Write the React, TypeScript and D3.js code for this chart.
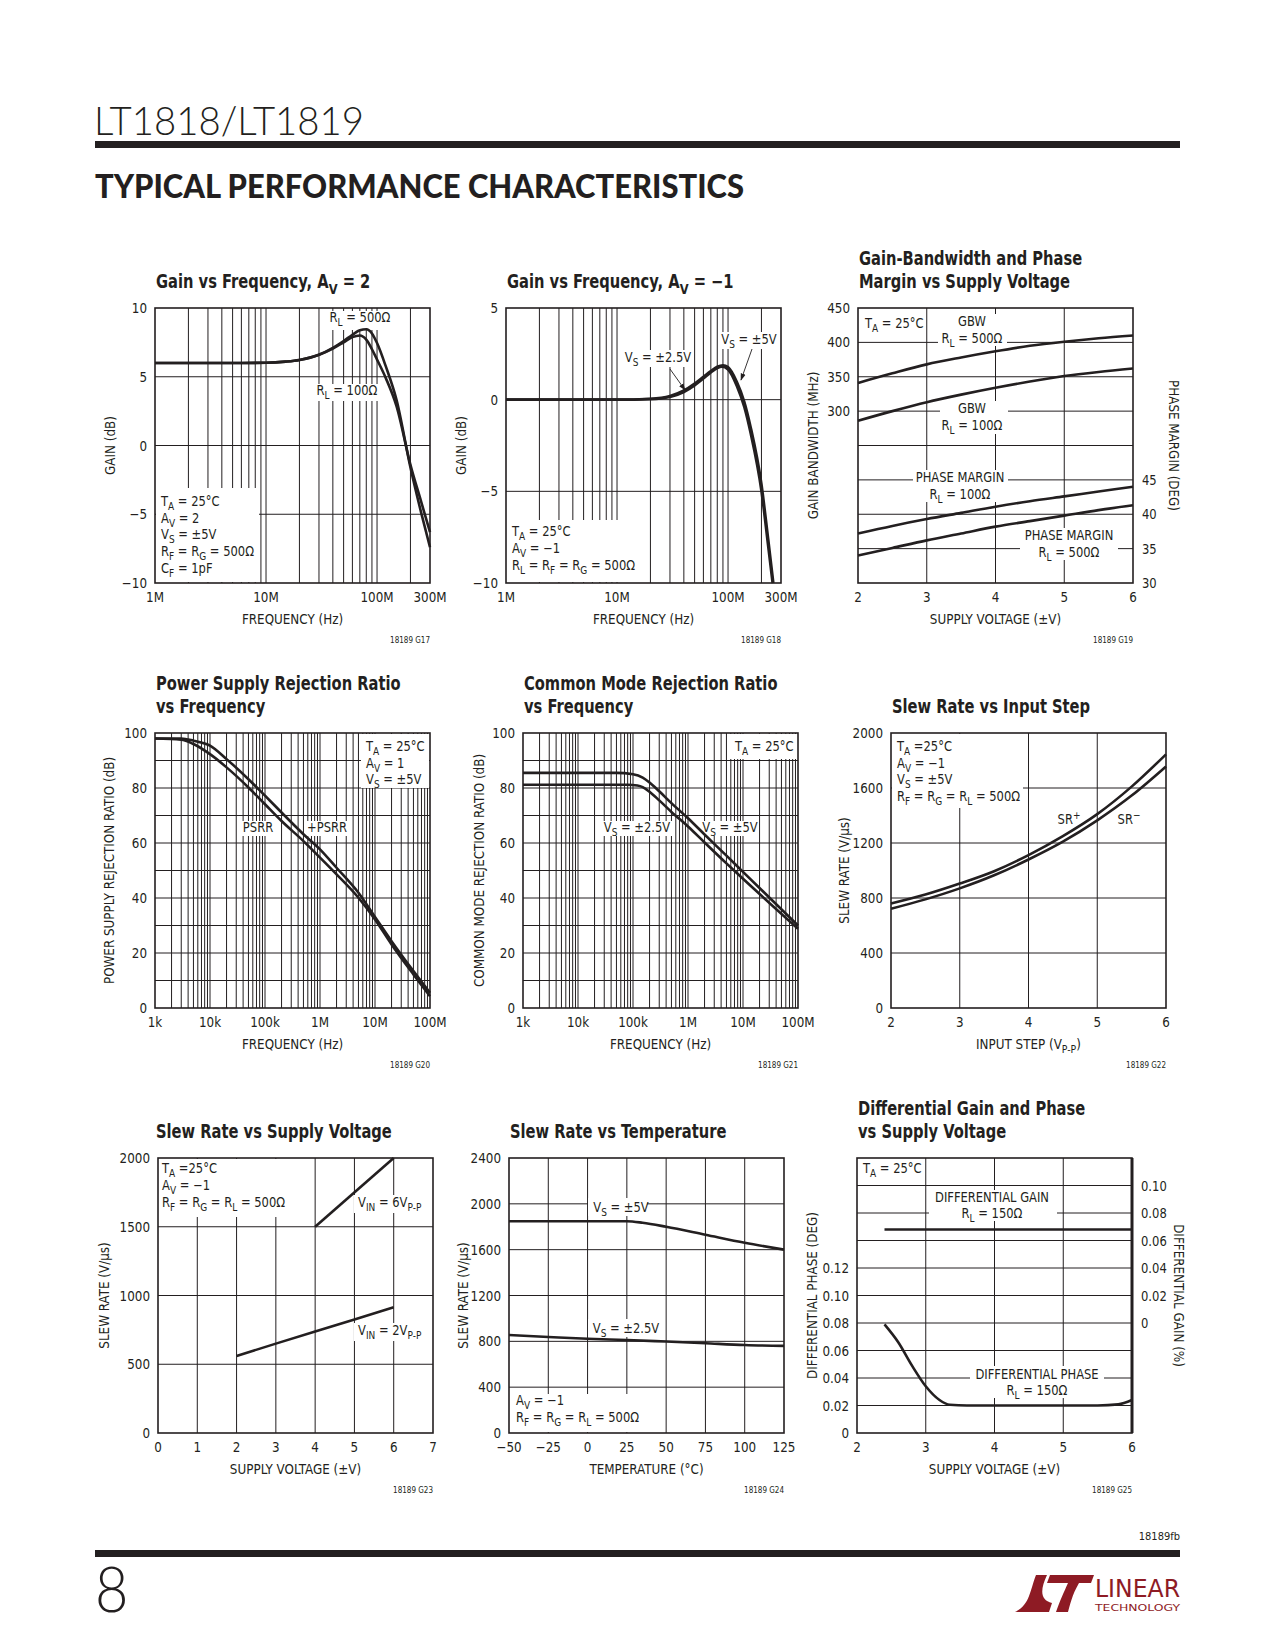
import React from "react";
import * as d3 from "d3";

type Pt = [number, number];

const INK = "#231f20";
const LOGO_RED = "#8e1b24";
const FONT = "'Liberation Sans Narrow', 'Arial Narrow', 'DejaVu Sans Condensed', sans-serif";

// G17 gain vs frequency, Av = 2 (MHz, dB)
const gainAv2Rl500: Pt[] = [[1, 6], [5, 6], [10, 6.02], [15, 6.1], [20, 6.22], [30, 6.6], [40, 7.1], [50, 7.6], [60, 8.05], [70, 8.38], [80, 8.45], [90, 8.15], [100, 7.45], [120, 5.75], [150, 3.3], [200, -1.6], [250, -4.9], [300, -7.4]];
const gainAv2Rl100: Pt[] = [[1, 6], [5, 6], [10, 6.02], [15, 6.1], [20, 6.22], [30, 6.6], [40, 7.05], [50, 7.5], [60, 7.88], [70, 8.0], [80, 7.7], [90, 7.0], [100, 6.25], [120, 4.9], [150, 2.85], [200, -1.4], [250, -4.1], [300, -6.3]];

// G18 gain vs frequency, Av = -1 (MHz, dB)
const gainAvm1Vs5: Pt[] = [[1, 0], [10, 0], [20, 0.05], [30, 0.2], [40, 0.5], [50, 0.88], [60, 1.25], [70, 1.56], [80, 1.8], [90, 1.88], [100, 1.78], [120, 0.98], [140, -0.1], [160, -1.5], [200, -4.6], [230, -7.6], [256, -10]];
const gainAvm1Vs25: Pt[] = [[1, 0], [10, 0], [20, 0.03], [30, 0.15], [40, 0.42], [50, 0.78], [60, 1.15], [70, 1.48], [80, 1.72], [88, 1.8], [100, 1.65], [120, 0.75], [140, -0.4], [160, -1.85], [200, -5.0], [230, -8.0], [252, -10]];

const mhzTicks = [1, 10, 100, 300];
const mhzLabels = ["1M", "10M", "100M", "300M"];

// G19 GBW (MHz) and phase margin (deg) vs supply (V)
const gbwRl500: Pt[] = [[2, 341], [2.5, 355], [3, 368], [3.5, 378], [4, 387], [4.5, 395], [5, 401], [5.5, 406], [6, 410]];
const gbwRl100: Pt[] = [[2, 286], [2.5, 300], [3, 313], [3.5, 324], [4, 334], [4.5, 343], [5, 351], [5.5, 357], [6, 362]];
const pmRl100: Pt[] = [[2, 37.2], [2.5, 38.3], [3, 39.3], [3.5, 40.2], [4, 41.1], [4.5, 41.9], [5, 42.6], [5.5, 43.3], [6, 44.0]];
const pmRl500: Pt[] = [[2, 34.0], [2.5, 35.1], [3, 36.2], [3.5, 37.2], [4, 38.2], [4.5, 39.0], [5, 39.8], [5.5, 40.6], [6, 41.3]];

// G20 PSRR (Hz, dB)
const psrrPlus: Pt[] = [[1e3, 98], [3e3, 98], [5e3, 97.2], [1e4, 95.4], [2e4, 90.5], [5e4, 83.2], [1e5, 77.2], [2e5, 71.1], [5e5, 63.2], [1e6, 57.7], [2e6, 51], [5e6, 41.9], [1e7, 33.1], [2e7, 24.3], [5e7, 13.4], [1e8, 5.5]];
const psrrMinus: Pt[] = [[1e3, 98], [3e3, 97.6], [5e3, 96], [1e4, 92.3], [2e4, 87.5], [5e4, 80.2], [1e5, 74.1], [2e5, 68], [5e5, 60.7], [1e6, 54.7], [2e6, 48.6], [5e6, 40.1], [1e7, 32.2], [2e7, 23.1], [5e7, 12.2], [1e8, 4.3]];

// G21 CMRR (Hz, dB)
const cmrrVs5: Pt[] = [[1e3, 85.5], [5e4, 85.5], [1e5, 85], [1.5e5, 83.8], [2e5, 82], [3e5, 78.8], [5e5, 74.5], [1e6, 69], [2e6, 63.1], [5e6, 55.4], [1e7, 49.5], [1e8, 30]];
const cmrrVs25: Pt[] = [[1e3, 81.2], [8e4, 81.2], [1.2e5, 80.9], [1.5e5, 80.3], [2e5, 78.6], [3e5, 75.5], [5e5, 71.3], [1e6, 66], [2e6, 60.2], [5e6, 52.6], [1e7, 47], [1e8, 28.8]];

const hzTicks = [1e3, 1e4, 1e5, 1e6, 1e7, 1e8];
const hzLabels = ["1k", "10k", "100k", "1M", "10M", "100M"];

// G22 slew rate vs input step (Vp-p, V/us)
const srPlusStep: Pt[] = [[2, 760], [2.5, 825], [3, 905], [3.5, 995], [4, 1112], [4.5, 1250], [5, 1410], [5.5, 1610], [6, 1845]];
const srMinusStep: Pt[] = [[2, 722], [2.5, 790], [3, 870], [3.5, 965], [4, 1080], [4.5, 1210], [5, 1365], [5.5, 1545], [6, 1757]];

// G23 slew rate vs supply (V, V/us)
const srVin6: Pt[] = [[4, 1500], [6, 2000]];
const srVin2: Pt[] = [[2, 560], [3, 650], [4, 738], [5, 826], [6, 915]];

// G24 slew rate vs temperature (C, V/us)
const srTempVs5: Pt[] = [[-50, 1848], [-25, 1848], [0, 1848], [25, 1848], [35, 1835], [50, 1800], [75, 1730], [100, 1660], [125, 1600]];
const srTempVs25: Pt[] = [[-50, 855], [-25, 838], [0, 822], [25, 812], [50, 798], [75, 783], [100, 768], [125, 760]];
const tempTicks = [-50, -25, 0, 25, 50, 75, 100, 125];
const tempLabels = ["\u221250", "\u221225", "0", "25", "50", "75", "100", "125"];

// G25 differential gain (%) and phase (deg) vs supply (V)
const diffGain: Pt[] = [[2.4, 0.068], [4, 0.068], [6, 0.068]];
const diffPhase: Pt[] = [[2.4, 0.079], [2.6, 0.066], [2.8, 0.049], [3.0, 0.034], [3.2, 0.024], [3.35, 0.0205], [3.6, 0.02], [4, 0.02], [5, 0.02], [5.5, 0.02], [5.8, 0.0208], [6, 0.024]];

function Rich({ x, y, s, size = 13.5, anchor = "start", weight = 400, rot = 0, sx = 0.95 }: { x: number; y: number; s: string; size?: number; anchor?: string; weight?: number; rot?: number; sx?: number }) {
  const segs: { t: string; k: string }[] = [];
  const re = /([_^])\{([^}]*)\}/g;
  let last = 0;
  let m: RegExpExecArray | null;
  while ((m = re.exec(s))) {
    if (m.index > last) segs.push({ t: s.slice(last, m.index), k: "n" });
    segs.push({ t: m[2], k: m[1] === "_" ? "sub" : "sup" });
    last = re.lastIndex;
  }
  if (last < s.length) segs.push({ t: s.slice(last), k: "n" });
  let cur = 0;
  const tf = `translate(${x},${y})${rot ? ` rotate(${rot})` : ""} scale(${sx},1)`;
  return (
    <text x={0} y={0} fontSize={size} textAnchor={anchor} fontWeight={weight} fontFamily={FONT} fill={INK} transform={tf}>
      {segs.map((g, i) => {
        const off = g.k === "sub" ? size * 0.3 : g.k === "sup" ? -size * 0.4 : 0;
        const dy = off - cur;
        cur = off;
        return (
          <tspan key={i} dy={dy || undefined} fontSize={g.k === "n" ? undefined : size * 0.78}>
            {g.t}
          </tspan>
        );
      })}
    </text>
  );
}

interface Series { data: Pt[]; right?: boolean; linear?: boolean }
interface Note { x: number; y: number; lines: string[]; anchor?: string; lh?: number }
interface PanelProps {
  L: number; T: number; title: string[]; titleDx?: number;
  x: any; y: any; y2?: any;
  xGrid: number[]; yGrid: number[];
  xTicks: number[]; xLabels: string[];
  yTicks: number[]; yLabels: string[];
  y2Ticks?: number[]; y2Labels?: string[];
  xTitle: string; yTitle: string; yTitleDx: number;
  y2Title?: string; y2TitleDx?: number;
  id: string; series: Series[];
  masks?: number[][]; notes?: Note[]; arrows?: number[][];
  heavyRight?: boolean;
}

function Panel(p: PanelProps) {
  const W = 275, H = 275;
  const x = p.x.copy().range([0, W]);
  const y = p.y.copy().range([H, 0]);
  const y2 = p.y2 ? p.y2.copy().range([H, 0]) : y;
  const path = (s: Series) =>
    d3.line<Pt>()
      .x(d => x(d[0]))
      .y(d => (s.right ? y2 : y)(d[1]))
      .curve(s.linear ? d3.curveLinear : d3.curveMonotoneX)(s.data) ?? "";
  return (
    <g transform={`translate(${p.L},${p.T})`}>
      {p.title.map((t, i) => (
        <Rich key={"t" + i} x={1 + (p.titleDx ?? 0)} y={-20 - (p.title.length - 1 - i) * 23} s={t} size={19} weight={700} sx={0.86} />
      ))}
      <g stroke={INK} strokeWidth={1}>
        {p.xGrid.map(v => <line key={"gx" + v} x1={x(v)} x2={x(v)} y1={0} y2={H} />)}
        {p.yGrid.map(v => <line key={"gy" + v} x1={0} x2={W} y1={y(v)} y2={y(v)} />)}
      </g>
      {(p.masks ?? []).map((r, i) => <rect key={"m" + i} x={r[0]} y={r[1]} width={r[2]} height={r[3]} fill="#fff" />)}
      {p.series.map((s, i) => (
        <path key={"s" + i} d={path(s)} fill="none" stroke={INK} strokeWidth={2.6} strokeLinejoin="round" />
      ))}
      {(p.arrows ?? []).map((a, i) => (
        <line key={"a" + i} x1={a[0]} y1={a[1]} x2={a[2]} y2={a[3]} stroke={INK} strokeWidth={0.9} markerEnd="url(#arrow)" />
      ))}
      {(p.notes ?? []).map((n, i) =>
        n.lines.map((s, j) => <Rich key={`n${i}-${j}`} x={n.x} y={n.y + j * (n.lh ?? 16.5)} s={s} anchor={n.anchor} />)
      )}
      <rect x={0} y={0} width={W} height={H} fill="none" stroke={INK} strokeWidth={1.6} />
      {p.heavyRight && <line x1={W} x2={W} y1={0} y2={H} stroke={INK} strokeWidth={3} />}
      {p.xTicks.map((v, i) => <Rich key={"xt" + i} x={x(v)} y={H + 19} s={p.xLabels[i]} size={14} anchor="middle" />)}
      {p.yTicks.map((v, i) => <Rich key={"yt" + i} x={-8} y={y(v) + 5} s={p.yLabels[i]} size={14} anchor="end" />)}
      {(p.y2Ticks ?? []).map((v, i) => <Rich key={"y2t" + i} x={W + 9} y={y2(v) + 5} s={p.y2Labels![i]} size={14} sx={0.92} />)}
      <Rich x={W / 2} y={H + 41} s={p.xTitle} size={14} anchor="middle" />
      <Rich x={p.yTitleDx + 5} y={H / 2} s={p.yTitle} size={14} anchor="middle" rot={-90} />
      {p.y2Title && (
        <Rich x={W + (p.y2TitleDx ?? 40) - 5} y={H / 2} s={p.y2Title} size={14} anchor="middle" rot={90} />
      )}
      <text x={W} y={H + 60} textAnchor="end" fontSize={8} fontFamily={FONT} fill={INK}>{p.id}</text>
    </g>
  );
}

const inner = (s: any) => {
  const [a, b] = s.domain();
  return s.ticks().filter((v: number) => v > a * 1.0001 && v < b * 0.9999);
};

export default function App() {
  const xMhz = d3.scaleLog().domain([1, 300]);
  const xHz = d3.scaleLog().domain([1e3, 1e8]);
  const xSupply = d3.scaleLinear().domain([2, 6]);
  const supTicks = [2, 3, 4, 5, 6];
  const supLabels = ["2", "3", "4", "5", "6"];

  return (
    <svg width={1275} height={1650} viewBox="0 0 1275 1650" style={{ position: "absolute", left: 0, top: 0, background: "#fff" }}>
      <defs>
        <marker id="arrow" viewBox="0 0 10 10" refX="9" refY="5" markerWidth="8" markerHeight="8" orient="auto">
          <path d="M0,1.5 L10,5 L0,8.5 z" fill={INK} />
        </marker>
      </defs>
      <rect x={0} y={0} width={1275} height={1650} fill="#fff" />

      {/* page header */}
      <text x={94} y={135} fontFamily="Lato, 'DejaVu Sans', sans-serif" fontWeight={300} fontSize={40} textLength={270} lengthAdjust="spacingAndGlyphs" fill={INK}>LT1818/LT1819</text>
      <rect x={95} y={141} width={1085} height={7} fill={INK} />
      <text x={95} y={198} fontFamily="Lato, 'DejaVu Sans', sans-serif" fontWeight={900} fontSize={32} textLength={649} lengthAdjust="spacingAndGlyphs" fill={INK}>TYPICAL PERFORMANCE CHARACTERISTICS</text>

      {/* G17 */}
      <Panel L={155} T={308} title={["Gain vs Frequency, A_{V} = 2"]}
        x={xMhz} y={d3.scaleLinear().domain([-10, 10])}
        xGrid={inner(xMhz)} yGrid={[-5, 0, 5]}
        xTicks={mhzTicks} xLabels={mhzLabels}
        yTicks={[-10, -5, 0, 5, 10]} yLabels={["\u221210", "\u22125", "0", "5", "10"]}
        xTitle="FREQUENCY (Hz)" yTitle="GAIN (dB)" yTitleDx={-45} id="18189 G17"
        series={[{ data: gainAv2Rl500 }, { data: gainAv2Rl100 }]}
        masks={[[173, 3, 65, 19], [158, 76, 68, 17], [1, 180, 103, 94]]}
        notes={[
          { x: 205, y: 14, lines: ["R_{L} = 500Ω"], anchor: "middle" },
          { x: 192, y: 87, lines: ["R_{L} = 100Ω"], anchor: "middle" },
          { x: 6, y: 198, lines: ["T_{A} = 25°C", "A_{V} = 2", "V_{S} = ±5V", "R_{F} = R_{G} = 500Ω", "C_{F} = 1pF"], lh: 16.7 },
        ]} />

      {/* G18 */}
      <Panel L={506} T={308} title={["Gain vs Frequency, A_{V} = \u22121"]}
        x={xMhz} y={d3.scaleLinear().domain([-10, 5])}
        xGrid={inner(xMhz)} yGrid={[-5, 0]}
        xTicks={mhzTicks} xLabels={mhzLabels}
        yTicks={[-10, -5, 0, 5]} yLabels={["\u221210", "\u22125", "0", "5"]}
        xTitle="FREQUENCY (Hz)" yTitle="GAIN (dB)" yTitleDx={-45} id="18189 G18"
        series={[{ data: gainAvm1Vs5 }, { data: gainAvm1Vs25 }]}
        masks={[[119, 42, 67, 17], [215, 24, 58, 17], [1, 212, 134, 62]]}
        arrows={[[164, 61, 179, 82], [246, 41, 235, 72]]}
        notes={[
          { x: 152, y: 54, lines: ["V_{S} = ±2.5V"], anchor: "middle" },
          { x: 243, y: 36, lines: ["V_{S} = ±5V"], anchor: "middle" },
          { x: 6, y: 228, lines: ["T_{A} = 25°C", "A_{V} = \u22121", "R_{L} = R_{F} = R_{G} = 500Ω"], lh: 17 },
        ]} />

      {/* G19 */}
      <Panel L={858} T={308} title={["Gain-Bandwidth and Phase", "Margin vs Supply Voltage"]}
        x={xSupply} y={d3.scaleLinear().domain([50, 450])} y2={d3.scaleLinear().domain([30, 70])}
        xGrid={[3, 4, 5]} yGrid={[100, 150, 200, 250, 300, 350, 400]}
        xTicks={supTicks} xLabels={supLabels}
        yTicks={[300, 350, 400, 450]} yLabels={["300", "350", "400", "450"]}
        y2Ticks={[30, 35, 40, 45]} y2Labels={["30", "35", "40", "45"]}
        xTitle="SUPPLY VOLTAGE (±V)" yTitle="GAIN BANDWIDTH (MHz)" yTitleDx={-45}
        y2Title="PHASE MARGIN (DEG)" y2TitleDx={41} id="18189 G19"
        series={[{ data: gbwRl500 }, { data: gbwRl100 }, { data: pmRl100, right: true }, { data: pmRl500, right: true }]}
        masks={[[80, 6, 69, 32], [82, 93, 68, 33], [55, 162, 95, 32], [162, 220, 98, 32]]}
        notes={[
          { x: 7, y: 20, lines: ["T_{A} = 25°C"] },
          { x: 114, y: 18, lines: ["GBW", "R_{L} = 500Ω"], anchor: "middle" },
          { x: 114, y: 105, lines: ["GBW", "R_{L} = 100Ω"], anchor: "middle" },
          { x: 102, y: 174, lines: ["PHASE MARGIN", "R_{L} = 100Ω"], anchor: "middle" },
          { x: 211, y: 232, lines: ["PHASE MARGIN", "R_{L} = 500Ω"], anchor: "middle" },
        ]} />

      {/* G20 */}
      <Panel L={155} T={733} title={["Power Supply Rejection Ratio", "vs Frequency"]}
        x={xHz} y={d3.scaleLinear().domain([0, 100])}
        xGrid={inner(xHz)} yGrid={[10, 20, 30, 40, 50, 60, 70, 80, 90]}
        xTicks={hzTicks} xLabels={hzLabels}
        yTicks={[0, 20, 40, 60, 80, 100]} yLabels={["0", "20", "40", "60", "80", "100"]}
        xTitle="FREQUENCY (Hz)" yTitle="POWER SUPPLY REJECTION RATIO (dB)" yTitleDx={-46} id="18189 G20"
        series={[{ data: psrrPlus }, { data: psrrMinus }]}
        masks={[[84, 88, 38, 15], [149, 88, 45, 15], [206, 1, 68, 54]]}
        notes={[
          { x: 103, y: 99, lines: ["PSRR"], anchor: "middle" },
          { x: 172, y: 99, lines: ["+PSRR"], anchor: "middle" },
          { x: 211, y: 18, lines: ["T_{A} = 25°C", "A_{V} = 1", "V_{S} = ±5V"], lh: 16.5 },
        ]} />

      {/* G21 */}
      <Panel L={523} T={733} title={["Common Mode Rejection Ratio", "vs Frequency"]}
        x={xHz} y={d3.scaleLinear().domain([0, 100])}
        xGrid={inner(xHz)} yGrid={[10, 20, 30, 40, 50, 60, 70, 80, 90]}
        xTicks={hzTicks} xLabels={hzLabels}
        yTicks={[0, 20, 40, 60, 80, 100]} yLabels={["0", "20", "40", "60", "80", "100"]}
        xTitle="FREQUENCY (Hz)" yTitle="COMMON MODE REJECTION RATIO (dB)" yTitleDx={-44} id="18189 G21"
        series={[{ data: cmrrVs5 }, { data: cmrrVs25 }]}
        masks={[[74, 88, 76, 15], [179, 88, 56, 15], [206, 1, 68, 25]]}
        notes={[
          { x: 114, y: 99, lines: ["V_{S} = ±2.5V"], anchor: "middle" },
          { x: 207, y: 99, lines: ["V_{S} = ±5V"], anchor: "middle" },
          { x: 212, y: 18, lines: ["T_{A} = 25°C"] },
        ]} />

      {/* G22 */}
      <Panel L={891} T={733} title={["Slew Rate vs Input Step"]}
        x={xSupply} y={d3.scaleLinear().domain([0, 2000])}
        xGrid={[3, 4, 5]} yGrid={[400, 800, 1200, 1600]}
        xTicks={supTicks} xLabels={supLabels}
        yTicks={[0, 400, 800, 1200, 1600, 2000]} yLabels={["0", "400", "800", "1200", "1600", "2000"]}
        xTitle="INPUT STEP (V_{P-P})" yTitle="SLEW RATE (V/μs)" yTitleDx={-47} id="18189 G22"
        series={[{ data: srPlusStep }, { data: srMinusStep }]}
        masks={[[1, 1, 131, 74]]}
        notes={[
          { x: 6, y: 18, lines: ["T_{A} =25°C", "A_{V} = \u22121", "V_{S} = ±5V", "R_{F} = R_{G} = R_{L} = 500Ω"], lh: 16.6 },
          { x: 178, y: 91, lines: ["SR^{+}"], anchor: "middle" },
          { x: 238, y: 91, lines: ["SR^{\u2212}"], anchor: "middle" },
        ]} />

      {/* G23 */}
      <Panel L={158} T={1158} titleDx={-3} title={["Slew Rate vs Supply Voltage"]}
        x={d3.scaleLinear().domain([0, 7])} y={d3.scaleLinear().domain([0, 2000])}
        xGrid={[1, 2, 3, 4, 5, 6]} yGrid={[500, 1000, 1500]}
        xTicks={[0, 1, 2, 3, 4, 5, 6, 7]} xLabels={["0", "1", "2", "3", "4", "5", "6", "7"]}
        yTicks={[0, 500, 1000, 1500, 2000]} yLabels={["0", "500", "1000", "1500", "2000"]}
        xTitle="SUPPLY VOLTAGE (±V)" yTitle="SLEW RATE (V/μs)" yTitleDx={-54} id="18189 G23"
        series={[{ data: srVin6, linear: true }, { data: srVin2, linear: true }]}
        masks={[[1, 1, 131, 58], [196, 37, 74, 18], [196, 165, 74, 18]]}
        notes={[
          { x: 4, y: 15, lines: ["T_{A} =25°C", "A_{V} = \u22121", "R_{F} = R_{G} = R_{L} = 500Ω"], lh: 17 },
          { x: 200, y: 49, lines: ["V_{IN} = 6V_{P-P}"] },
          { x: 200, y: 177, lines: ["V_{IN} = 2V_{P-P}"] },
        ]} />

      {/* G24 */}
      <Panel L={509} T={1158} title={["Slew Rate vs Temperature"]}
        x={d3.scaleLinear().domain([-50, 125])} y={d3.scaleLinear().domain([0, 2400])}
        xGrid={[-25, 0, 25, 50, 75, 100]} yGrid={[400, 800, 1200, 1600, 2000]}
        xTicks={tempTicks} xLabels={tempLabels}
        yTicks={[0, 400, 800, 1200, 1600, 2000, 2400]} yLabels={["0", "400", "800", "1200", "1600", "2000", "2400"]}
        xTitle="TEMPERATURE (°C)" yTitle="SLEW RATE (V/μs)" yTitleDx={-46} id="18189 G24"
        series={[{ data: srTempVs5 }, { data: srTempVs25 }]}
        masks={[[79, 40, 59, 18], [79, 161, 70, 18], [1, 236, 140, 38]]}
        notes={[
          { x: 112, y: 54, lines: ["V_{S} = ±5V"], anchor: "middle" },
          { x: 117, y: 175, lines: ["V_{S} = ±2.5V"], anchor: "middle" },
          { x: 7, y: 247, lines: ["A_{V} = \u22121", "R_{F} = R_{G} = R_{L} = 500Ω"], lh: 17 },
        ]} />

      {/* G25 */}
      <Panel L={857} T={1158} title={["Differential Gain and Phase", "vs Supply Voltage"]}
        x={xSupply} y={d3.scaleLinear().domain([0, 0.2])} y2={d3.scaleLinear().domain([-0.08, 0.12])}
        xGrid={[3, 4, 5]} yGrid={[0.02, 0.04, 0.06, 0.08, 0.1, 0.12, 0.14, 0.16, 0.18]}
        xTicks={supTicks} xLabels={supLabels}
        yTicks={[0, 0.02, 0.04, 0.06, 0.08, 0.1, 0.12]} yLabels={["0", "0.02", "0.04", "0.06", "0.08", "0.10", "0.12"]}
        y2Ticks={[0, 0.02, 0.04, 0.06, 0.08, 0.1]} y2Labels={["0", "0.02", "0.04", "0.06", "0.08", "0.10"]}
        xTitle="SUPPLY VOLTAGE (±V)" yTitle="DIFFERENTIAL PHASE (DEG)" yTitleDx={-45}
        y2Title="DIFFERENTIAL GAIN (%)" y2TitleDx={47} id="18189 G25" heavyRight
        series={[{ data: diffGain, right: true, linear: true }, { data: diffPhase }]}
        masks={[[72, 32, 128, 31], [113, 208, 134, 32]]}
        notes={[
          { x: 6, y: 15, lines: ["T_{A} = 25°C"] },
          { x: 135, y: 43.5, lines: ["DIFFERENTIAL GAIN", "R_{L} = 150Ω"], anchor: "middle", lh: 16 },
          { x: 180, y: 220.5, lines: ["DIFFERENTIAL PHASE", "R_{L} = 150Ω"], anchor: "middle", lh: 16 },
        ]} />

      {/* page footer */}
      <text x={1180} y={1540} textAnchor="end" fontSize={11} fontFamily={FONT} fill={INK}>18189fb</text>
      <rect x={95} y={1550} width={1085} height={7} fill={INK} />
      <text x={0} y={0} transform="translate(95,1612) scale(0.9,1)" fontSize={64} fontFamily="Lato, 'DejaVu Sans', sans-serif" fontWeight={300} fill={INK}>8</text>
      <g fill={LOGO_RED}>
        <path d="M1036,1575 L1047,1575 C1040,1590 1040,1600 1052,1603 L1049,1612 L1015,1612 C1030,1605 1030,1590 1036,1575 Z" />
        <path d="M1050,1575 L1094,1575 L1091,1583 L1079,1583 C1072,1595 1070,1605 1068,1612 L1056,1612 C1060,1600 1064,1592 1068,1583 L1047,1583 Z" />
        <text x={1095} y={1597} fontSize={25} fontFamily={FONT} textLength={85} lengthAdjust="spacingAndGlyphs">LINEAR</text>
        <text x={1095} y={1611} fontSize={9.5} fontFamily={FONT} textLength={85} lengthAdjust="spacingAndGlyphs">TECHNOLOGY</text>
      </g>
    </svg>
  );
}
